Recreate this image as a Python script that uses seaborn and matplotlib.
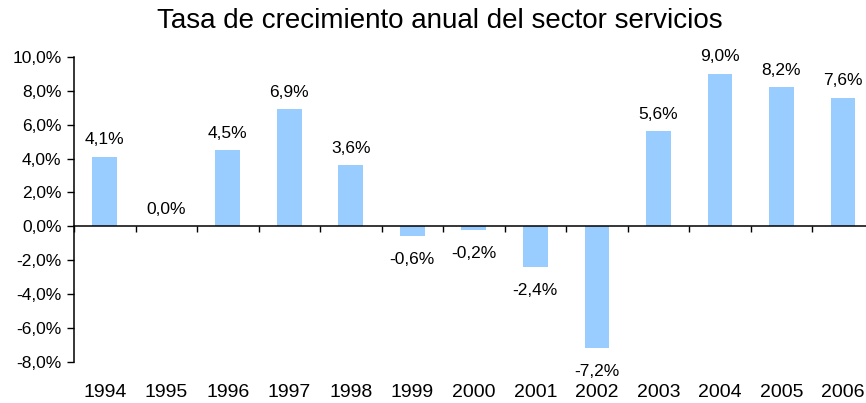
import numpy as np
import pandas as pd
import matplotlib
matplotlib.use("Agg")
import matplotlib.pyplot as plt
from matplotlib.ticker import FuncFormatter, FixedLocator
import seaborn as sns

# datos
years = ['1994', '1995', '1996', '1997', '1998', '1999', '2000',
         '2001', '2002', '2003', '2004', '2005', '2006']
growth = [4.1, 0.0, 4.5, 6.9, 3.6, -0.6, -0.2, -2.4, -7.2, 5.6, 9.0, 8.2, 7.6]
y_ticks = [-8, -6, -4, -2, 0, 2, 4, 6, 8, 10]
title = "Tasa de crecimiento anual del sector servicios"

sns.set_theme(style="white")
plt.rcParams['font.family'] = ['Liberation Sans', 'DejaVu Sans']

df = pd.DataFrame({'year': years, 'growth': growth})

def fmt(v):
    return f"{v:.1f}%".replace('.', ',')

fig = plt.figure(figsize=(8.66, 4.03), dpi=100)
ax = fig.add_axes([74 / 866, 1 - 361.7 / 403, 799.6 / 866, 304.7 / 403])

sns.barplot(data=df, x='year', y='growth', color='#99CCFF', saturation=1,
            width=0.4, ax=ax, edgecolor='none')
ax.set_xlim(-0.5, len(years) - 0.5)
ax.set_ylim(min(y_ticks), max(y_ticks))
ax.set_xlabel('')
ax.set_ylabel('')

# eje y
ax.set_yticks(y_ticks)
ax.yaxis.set_major_formatter(FuncFormatter(lambda v, p: fmt(v)))
ax.tick_params(axis='y', left=True, direction='out', length=5, width=1,
               color='black', pad=4, labelsize=12.5, labelcolor='black')

# linea del cero con marcas entre categorias
for s in ['top', 'right']:
    ax.spines[s].set_visible(False)
ax.spines['left'].set_color('black')
ax.spines['left'].set_linewidth(1.1)
ax.spines['bottom'].set_position(('data', 0))
ax.spines['bottom'].set_color('black')
ax.spines['bottom'].set_linewidth(1.1)
ax.xaxis.set_major_locator(FixedLocator(np.arange(len(years) + 1) - 0.5))
ax.set_xticklabels([''] * (len(years) + 1))
ax.tick_params(axis='x', bottom=True, direction='out', length=4.5, width=1,
               color='black')

# etiquetas de años abajo
sec = ax.secondary_xaxis('bottom')
sec.set_xticks(range(len(years)))
sec.set_xticklabels(years)
sec.spines['bottom'].set_visible(False)
sec.tick_params(axis='x', length=0, pad=16, labelsize=14, labelcolor='black')

# etiquetas de datos
for i, v in enumerate(growth):
    if v >= 0:
        ax.annotate(fmt(v), (i, v), xytext=(0, 9), textcoords='offset points',
                    ha='center', va='baseline', fontsize=12.5, color='black')
    else:
        ax.annotate(fmt(v), (i, v), xytext=(0, -11.5), textcoords='offset points',
                    ha='center', va='top', fontsize=12.5, color='black')

fig.text(440 / 866, 1 - 28 / 403, title, ha='center', va='baseline',
         fontsize=20, color='black')

fig.savefig('out.png', dpi=100)
